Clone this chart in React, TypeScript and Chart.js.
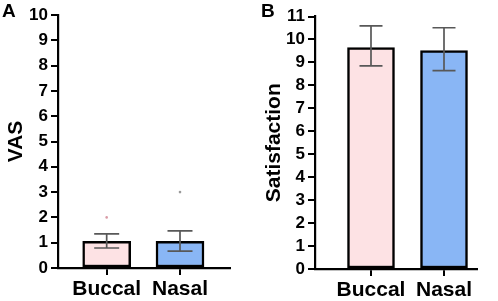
import React, { useEffect, useRef } from "react";
import { Chart, registerables } from "chart.js";

Chart.register(...registerables);

const categories = ["Buccal", "Nasal"];
const barColors = ["#fde2e4", "#89b6f5"];

// Panel A: VAS
const vasMeans = [1.05, 1.05];
const vasUpper = [1.35, 1.47];
const vasLower = [0.79, 0.67];
const vasOutliers = [2, 3];
const vasOutlierColors = ["#d99aa5", "#9a9a9a"];
const vasTicksMax = 10;

// Panel B: Satisfaction
const satMeans = [9.65, 9.52];
const satUpper = [10.59, 10.51];
const satLower = [8.85, 8.64];
const satTicksMax = 11;

const FONT = '"Liberation Sans", Arial, Helvetica, sans-serif';

type PanelCfg = {
  title: string;
  means: number[];
  upper: number[];
  lower: number[];
  outliers: number[] | null;
  outlierColors: string[];
  yMax: number;
  xMin: number;
  xMax: number;
  barWidth: number;
  capWidth: number;
  axisWidth: number;
  padTop: number;
  padRight: number;
  xAxisHeight: number;
  titlePad: number;
};

const errorBarPlugin = {
  id: "errorBars",
  afterDatasetsDraw(chart: any, _args: any, opts: any) {
    const { ctx } = chart;
    const meta = chart.getDatasetMeta(0);
    const y = chart.scales.y;
    ctx.save();
    ctx.strokeStyle = "#585858";
    ctx.lineWidth = 1.7;
    meta.data.forEach((bar: any, i: number) => {
      const x = bar.x;
      const yHi = y.getPixelForValue(opts.upper[i]);
      const yLo = y.getPixelForValue(opts.lower[i]);
      const half = opts.capWidth / 2;
      ctx.beginPath();
      ctx.moveTo(x, yHi);
      ctx.lineTo(x, yLo);
      ctx.moveTo(x - half, yHi);
      ctx.lineTo(x + half, yHi);
      ctx.moveTo(x - half, yLo);
      ctx.lineTo(x + half, yLo);
      ctx.stroke();
    });
    ctx.restore();
  },
};

function Panel({ cfg }: { cfg: PanelCfg }) {
  const ref = useRef<HTMLCanvasElement | null>(null);
  useEffect(() => {
    if (!ref.current) return;
    const datasets: any[] = [
      {
        type: "bar",
        data: cfg.means.map((v, i) => ({ x: i, y: v })),
        backgroundColor: barColors,
        borderColor: "#000000",
        borderWidth: 2.5,
        borderSkipped: false,
        barThickness: cfg.barWidth,
        order: 2,
      },
    ];
    if (cfg.outliers) {
      datasets.push({
        type: "line",
        data: cfg.outliers.map((v, i) => ({ x: i, y: v })),
        showLine: false,
        pointRadius: 1.3,
        pointBorderWidth: 0,
        pointBackgroundColor: cfg.outlierColors,
        order: 1,
      });
    }
    const chart = new Chart(ref.current, {
      type: "bar",
      data: { datasets },
      plugins: [errorBarPlugin],
      options: {
        animation: false,
        responsive: false,
        maintainAspectRatio: false,
        layout: { padding: { top: cfg.padTop, right: cfg.padRight, left: 0, bottom: 0 } },
        plugins: {
          legend: { display: false },
          tooltip: { enabled: false },
          errorBars: { upper: cfg.upper, lower: cfg.lower, capWidth: cfg.capWidth },
        } as any,
        scales: {
          x: {
            type: "linear",
            offset: false,
            min: cfg.xMin,
            max: cfg.xMax,
            afterBuildTicks: (s: any) => {
              s.ticks = categories.map((_, i) => ({ value: i }));
            },
            afterFit: (s: any) => {
              s.height = cfg.xAxisHeight;
            },
            ticks: {
              callback: (v: any) => categories[v] ?? "",
              font: { family: FONT, size: 21, weight: "bold" },
              color: "#000000",
              padding: 2,
              maxRotation: 0,
              autoSkip: false,
            },
            grid: {
              offset: false,
              drawOnChartArea: false,
              drawTicks: true,
              tickLength: 7,
              color: "#000000",
              lineWidth: 2,
            },
            border: { display: true, color: "#000000", width: 2.2 },
          },
          y: {
            min: 0,
            max: cfg.yMax,
            afterFit: (s: any) => {
              s.width = cfg.axisWidth;
            },
            ticks: {
              stepSize: 1,
              autoSkip: false,
              font: { family: FONT, size: 17, weight: "bold" },
              color: "#000000",
              padding: 3,
            },
            grid: {
              drawOnChartArea: false,
              drawTicks: true,
              tickLength: 7,
              color: "#000000",
              lineWidth: 2,
            },
            border: { display: true, color: "#000000", width: 2.2 },
            title: {
              display: true,
              text: cfg.title,
              font: { family: FONT, size: 21, weight: "bold" },
              color: "#000000",
              padding: { top: cfg.titlePad, bottom: 0 },
            },
          },
        },
      } as any,
    });
    return () => chart.destroy();
  }, [cfg]);
  return <canvas ref={ref} width={249} height={301} style={{ display: "block", width: 249, height: 301 }} />;
}

const panelA: PanelCfg = {
  title: "VAS",
  means: vasMeans,
  upper: vasUpper,
  lower: vasLower,
  outliers: vasOutliers,
  outlierColors: vasOutlierColors,
  yMax: vasTicksMax,
  xMin: -0.664,
  xMax: 1.682,
  barWidth: 48,
  capWidth: 25,
  axisWidth: 58,
  padTop: 15,
  padRight: 19,
  xAxisHeight: 33,
  titlePad: 4,
};

const panelB: PanelCfg = {
  title: "Satisfaction",
  means: satMeans,
  upper: satUpper,
  lower: satLower,
  outliers: null,
  outlierColors: [],
  yMax: satTicksMax,
  xMin: -0.767,
  xMax: 1.452,
  barWidth: 47,
  capWidth: 23,
  axisWidth: 66,
  padTop: 16.5,
  padRight: 21,
  xAxisHeight: 32,
  titlePad: 13,
};

const labelStyle: React.CSSProperties = {
  position: "absolute",
  top: 0,
  fontFamily: FONT,
  fontWeight: "bold",
  fontSize: 19,
  lineHeight: "22px",
  color: "#000",
};

export default function App() {
  return (
    <div style={{ position: "fixed", left: 0, top: 0, width: 498, height: 301, background: "#fff", overflow: "hidden" }}>
      <div style={{ position: "absolute", left: 0, top: 0 }}>
        <Panel cfg={panelA} />
      </div>
      <div style={{ position: "absolute", left: 249, top: 0 }}>
        <Panel cfg={panelB} />
      </div>
      <div style={{ ...labelStyle, left: 2 }}>A</div>
      <div style={{ ...labelStyle, left: 261 }}>B</div>
    </div>
  );
}
